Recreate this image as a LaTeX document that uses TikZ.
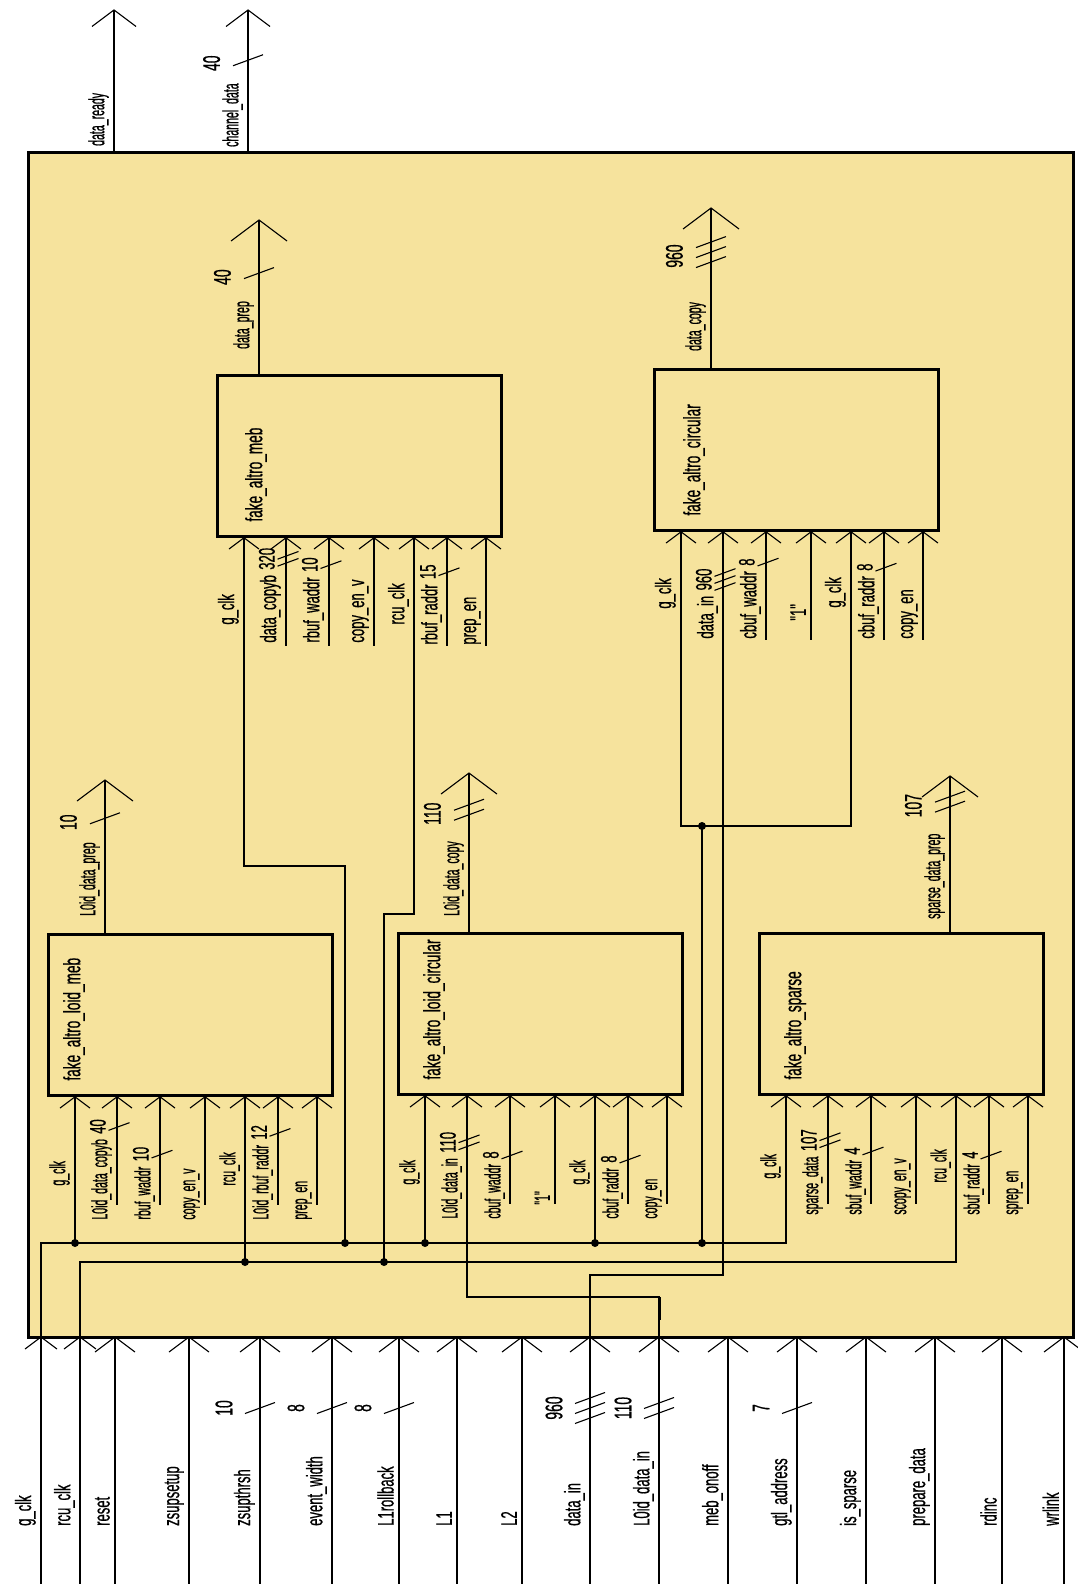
\documentclass[tikz,border=0pt]{standalone}
\usepackage{fontspec}
\newfontfamily\schfont[FakeStretch=0.58,FakeBold=0.6]{Liberation Sans}
\newfontfamily\schnarrow[FakeStretch=0.48,FakeBold=0.6]{Liberation Sans}
\usetikzlibrary{calc}
\definecolor{blockfill}{RGB}{246,227,157}

\begin{document}
\begin{tikzpicture}[
  x=1pt, y={(0pt,-1pt)},
  wire/.style={line width=1.4pt},
  thinwire/.style={line width=1.1pt},
  outer/.style={draw, line width=2.6pt, fill=blockfill, anchor=north west, inner sep=0pt},
  blk/.style={draw, line width=2.8pt, fill=blockfill, anchor=north west, inner sep=0pt,
              minimum width=284pt, minimum height=161pt},
  lbl/.style={font=\schfont\fontsize{22.5pt}{22.5pt}\selectfont, rotate=90, inner sep=1pt},
  olbl/.style={font=\schnarrow\fontsize{22pt}{22pt}\selectfont, rotate=90, inner sep=1pt},
  title/.style={font=\schfont\fontsize{23.5pt}{23.5pt}\selectfont, rotate=90, inner sep=1pt},
  num/.style={font=\schfont\fontsize{24pt}{24pt}\selectfont, rotate=90, inner sep=1pt},
  jn/.style={circle, fill=black, inner sep=0pt, minimum size=8pt},
  head/.pic={\draw[thinwire] (-#1,{0.75*#1}) -- (0,0) -- (#1,{0.75*#1});},
  bus/.pic={\foreach \k in {1,...,#1}
    \draw[thinwire] (-15,{5.5+10*(\k-1)-5*(#1-1)}) -- ++(30,-11);}
]
\useasboundingbox (0,0) rectangle (1078,1584);
\node[outer, minimum width=1045pt, minimum height=1185pt] (fa) at (27,151) {};

% sub-blocks
\node[blk] (meb) at (216,374) {};
\node[blk] (circ) at (653,368) {};
\node[blk] (lmeb) at (47,933) {};
\node[blk] (lcirc) at (397,932) {};
\node[blk] (sparse) at (758,932) {};
\foreach \b/\d/\t in {meb/28/fake\_altro\_meb,circ/29/fake\_altro\_circular,lmeb/15/fake\_altro\_loid\_meb,%
lcirc/25/fake\_altro\_loid\_circular,sparse/25/fake\_altro\_sparse}
  \node[title, anchor=north west] (\b-name) at ($(\b.south west)+(\d,-15)$) {\t};

% pin positions, same for every block
\foreach \b in {meb,circ,lmeb,lcirc,sparse}
  \foreach \o [count=\i] in {28,70,113,158,198,231,270}
    \coordinate (\b-\i) at ($(\b.south west)+(\o,0)$);

% unconnected pins
\foreach \p in {meb-2,meb-3,meb-4,meb-6,meb-7,circ-3,circ-4,circ-6,circ-7,%
lmeb-2,lmeb-3,lmeb-4,lmeb-6,lmeb-7,lcirc-3,lcirc-4,lcirc-6,lcirc-7,%
sparse-2,sparse-3,sparse-4,sparse-6,sparse-7}
  \draw[wire] (\p) -- ++(0,108);
\foreach \b in {meb,circ,lmeb,lcirc,sparse}
  \foreach \i in {1,...,7} \pic at (\b-\i) {head=15};

% pin labels, upper row
\foreach \p/\y/\t in {meb-1/88/g\_clk,meb-2/106/data\_copyb,meb-3/106/rbuf\_waddr,meb-4/106/copy\_en\_v,%
meb-5/88/rcu\_clk,meb-6/108/rbuf\_raddr,meb-7/108/prep\_en,%
circ-1/78/g\_clk,circ-2/108/data\_in,circ-3/108/cbuf\_waddr,circ-4/90/"1",%
circ-5/77/g\_clk,circ-6/108/cbuf\_raddr,circ-7/108/copy\_en}
  \node[lbl, anchor=south west] (\p-l) at ($(\p)+(-4,\y)$) {\t};
% pin labels, lower row
\foreach \p/\y/\t in {lmeb-1/90/g\_clk,lmeb-2/124/L0id\_data\_copyb,lmeb-3/124/rbuf\_waddr,lmeb-4/124/copy\_en\_v,%
lmeb-5/90/rcu\_clk,lmeb-6/124/L0id\_rbuf\_raddr,lmeb-7/124/prep\_en,%
lcirc-1/90/g\_clk,lcirc-2/124/L0id\_data\_in,lcirc-3/124/cbuf\_waddr,lcirc-4/110/"1",%
lcirc-5/90/g\_clk,lcirc-6/124/cbuf\_raddr,lcirc-7/124/copy\_en,%
sparse-1/84/g\_clk,sparse-2/120/sparse\_data,sparse-3/120/sbuf\_waddr,sparse-4/120/scopy\_en\_v,%
sparse-5/88/rcu\_clk,sparse-6/120/sbuf\_raddr,sparse-7/120/sprep\_en}
  \node[olbl, anchor=south west] (\p-l) at ($(\p)+(-4,\y)$) {\t};

% bus widths on block pins
\foreach \p/\n/\m in {meb-2/320/2,meb-3/10/1,meb-6/15/1,circ-2/960/3,circ-3/8/1,circ-6/8/1,%
lmeb-2/40/1,lmeb-3/10/1,lmeb-6/12/1,lcirc-2/110/2,lcirc-3/8/1,lcirc-6/8/1,%
sparse-2/107/2,sparse-3/4/1,sparse-6/4/1} {
  \node[lbl, anchor=south west] (\p-n) at ([yshift=3pt, xshift=-6pt]\p-l.south east) {\n};
  \pic[scale=0.7] at ($(\p |- \p-n.center)+(2,0)$) {bus=\m};
}

% block outputs
\foreach \b/\o/\len/\e/\t/\n/\m/\g in {meb/43/154/24/data\_prep/40/1/14,circ/58/160/16/data\_copy/960/3/32,%
lmeb/58/153/16/L0id\_data\_prep/10/1/10,lcirc/72/159/15/L0id\_data\_copy/110/2/14,%
sparse/192/156/12/sparse\_data\_prep/107/2/14} {
  \coordinate (\b-o) at ($(\b.north west)+(\o,0)$);
  \draw[wire] (\b-o) -- ++(0,-\len) coordinate (\b-t);
  \pic at (\b-t) {head=28};
  \node[olbl, anchor=south west] (\b-ol) at ($(\b-o)+(-4,-\e)$) {\t};
  \node[num, anchor=south west] (\b-on) at ([yshift=\g pt]\b-ol.north east) {\n};
  \pic at ($(\b-o |- \b-on.center)+(0,-4)$) {bus=\m};
}

% top-level outputs
\coordinate (dr) at ($(fa.north west)+(87,0)$);
\draw[wire] (dr) -- ++(0,-141) coordinate (dr-t);
\pic at (dr-t) {head=22};
\node[olbl, anchor=south west] (dr-l) at ($(dr)+(-4,-4)$) {data\_ready};
\coordinate (cd) at ($(fa.north west)+(221,0)$);
\draw[wire] (cd) -- ++(0,-141) coordinate (cd-t);
\pic at (cd-t) {head=22};
\node[olbl, anchor=south west] (cd-l) at ($(cd)+(-4,-3)$) {channel\_data};
\node[num, anchor=south west] (cd-n) at ([yshift=10pt]cd-l.north east) {40};
\pic at ($(cd |- cd-n.center)+(0,-3)$) {bus=1};

% top-level inputs
\foreach \x/\n/\h/\t in {41/gclk/16/g\_clk,80/rcuclk/16/rcu\_clk,115/reset/20/reset,189/zsupsetup/20/zsupsetup,%
260/zsupthrsh/20/zsupthrsh,332/evw/20/event\_width,399/rollback/20/L1rollback,457/lone/20/L1,522/ltwo/20/L2,%
590/datain/20/data\_in,659/lidin/20/L0id\_data\_in,728/onoff/20/meb\_onoff,797/gtl/20/gtl\_address,%
866/issparse/20/is\_sparse,935/prep/20/prepare\_data,1002/rdinc/20/rdinc,1064/wrlink/20/wrlink} {
  \coordinate (in-\n) at (\x,1337);
  \coordinate (in-\n-end) at (\x,1584);
  \draw[wire] (in-\n-end) -- (in-\n);
  \pic at (in-\n) {head=\h};
  \node[lbl, anchor=south west] (in-\n-l) at ($(in-\n)+(-4,190)$) {\t};
}
\foreach \n/\w/\m in {zsupthrsh/10/1,evw/8/1,rollback/8/1,datain/960/3,lidin/110/2,gtl/7/1} {
  \node[num] (in-\n-w) at ($(in-\n)+(-36,71)$) {\w};
  \pic at ($(in-\n)+(0,71)$) {bus=\m};
}

% clock buses
\coordinate (gbus) at (41,1243);
\coordinate (rbus) at (80,1262);
\draw[wire] (in-gclk) -- (gbus) -| (sparse-1);
\draw[wire] (in-rcuclk) -- (rbus) -| (sparse-5);
\foreach \p [count=\k] in {lmeb-1,lcirc-1,lcirc-5}
  \draw[wire] (\p) -- (\p |- gbus) node[jn] (gj\k) {};
\draw[wire] (lmeb-5) -- (lmeb-5 |- rbus) node[jn] (rj1) {};
\coordinate (mebg) at (345,866);
\coordinate (mebr) at (384,914);
\draw[wire] (meb-1) |- (mebg) -- (mebg |- gbus) node[jn] (gj4) {};
\draw[wire] (meb-5) |- (mebr) -- (mebr |- rbus) node[jn] (rj2) {};
\coordinate (circg) at (702,826);
\draw[wire] (circ-1) |- (circg) -| (circ-5);
\draw[wire] (circg) -- (circg |- gbus) node[jn] (gj5) {};
\node[jn] (cj) at (circg) {};

% data inputs
\draw[wire] (in-datain) -- ++(0,-62) -| (circ-2);
\draw[wire] (in-lidin) -- ++(0,-40) -| (lcirc-2);
\draw[line width=3pt] ($(in-lidin)+(0,-17)$) -- ++(0,-23);
\end{tikzpicture}
\end{document}
